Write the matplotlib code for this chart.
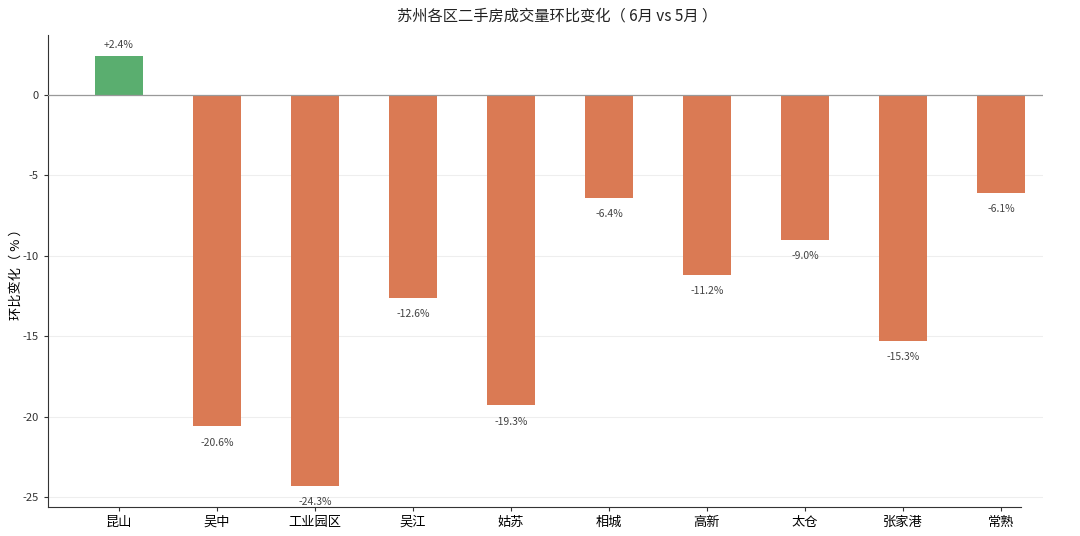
import matplotlib
matplotlib.use("Agg")
import matplotlib.pyplot as plt

plt.rcParams['font.family'] = ['Noto Sans CJK SC', 'DejaVu Sans']

districts = ["昆山", "吴中", "工业园区", "吴江", "姑苏", "相城", "高新", "太仓", "张家港", "常熟"]
changes = [2.4, -20.6, -24.3, -12.6, -19.3, -6.4, -11.2, -9.0, -15.3, -6.1]
yticks = [0, -5, -10, -15, -20, -25]

green = "#5aae6f"
orange = "#da7a54"

fig = plt.figure(figsize=(10.8, 5.36), dpi=100)
ax = fig.add_axes([48/1080, 1-507/536, (1043-48)/1080, (507-35)/536])

x = list(range(len(districts)))
colors = [green if v >= 0 else orange for v in changes]
ax.bar(x, changes, width=0.49, color=colors, zorder=3)

for xi, v in zip(x, changes):
    if v >= 0:
        ax.text(xi, v + 0.4, f"+{v:.1f}%", ha='center', va='bottom', fontsize=7.5, color='#444444')
    else:
        ax.text(xi, v - 0.7, f"{v:.1f}%", ha='center', va='top', fontsize=7.5, color='#444444')

ax.axhline(0, color='#999999', linewidth=0.9, zorder=4)
ax.set_xlim(-0.724, 9.43)
ax.set_ylim(-25.62, 3.73)
ax.set_yticks(yticks)
ax.set_yticklabels([str(t) for t in yticks])
ax.set_xticks(x)
ax.set_xticklabels(districts)
ax.tick_params(axis='x', labelsize=9.5, length=3, color='#333333')
ax.tick_params(axis='y', labelsize=8, length=3, color='#333333', labelcolor='#333333')
ax.grid(axis='y', color='#eeeeee', linewidth=0.8, zorder=0)
ax.spines['top'].set_visible(False)
ax.spines['right'].set_visible(False)
ax.spines['left'].set_color('#333333')
ax.spines['bottom'].set_color('#333333')
ax.spines['bottom'].set_bounds(-0.724, 9.21)
ax.set_ylabel("环比变化（ % ）", fontsize=9.5, labelpad=0)
fig.text(557/1080, 1-16/536, "苏州各区二手房成交量环比变化（ 6月 vs 5月 ）", ha='center', va='center', fontsize=11, color='#222222')

fig.savefig("out.png", dpi=100)
